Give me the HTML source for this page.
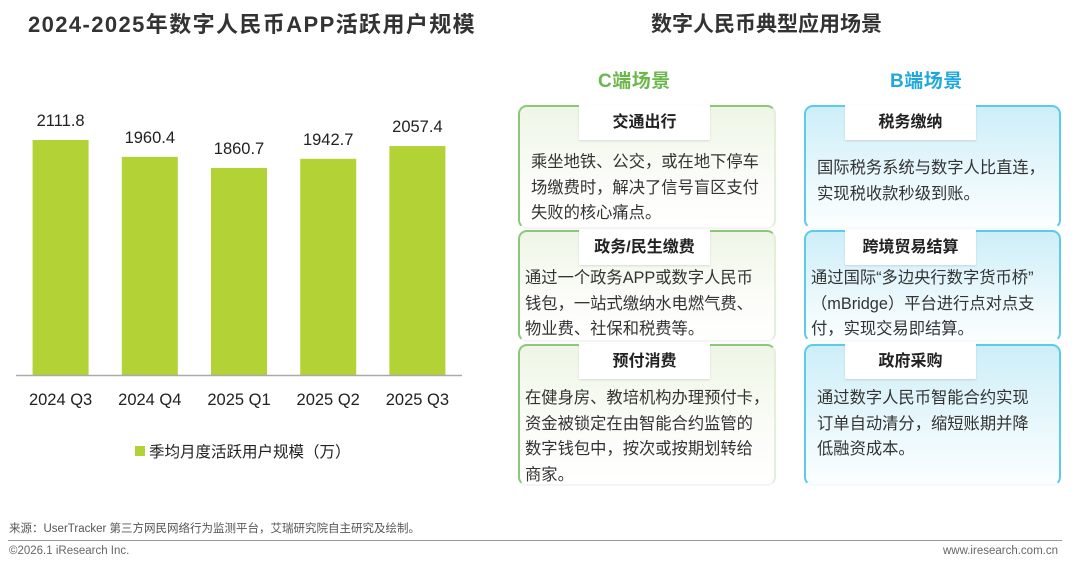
<!DOCTYPE html>
<html><head><meta charset="utf-8">
<style>
*{margin:0;padding:0;box-sizing:border-box}
body{width:1080px;height:568px;background:#fff;position:relative;overflow:hidden;font-family:"Liberation Sans","Noto Sans CJK SC",sans-serif;color:#222}
.abs{position:absolute}
.title{font-size:21px;font-weight:bold;color:#333;top:8px}
.card{position:absolute;border-radius:9px;}
.c{border:2px solid #8cc87a;background:linear-gradient(180deg,#eef6e6 0%,#fbfcf8 60%,#fff 100%);border-bottom-color:#f4f4f4;border-right-color:#e3efd9}
.b{border:2px solid #5ccbe9;background:linear-gradient(180deg,#cdeef8 0%,#eaf8fc 60%,#fbfeff 100%);border-bottom-color:#f4fbfd}
.tab{position:absolute;top:-2px;height:35px;background:#fff;text-align:center;font-size:16px;font-weight:bold;line-height:35px;color:#222;box-shadow:0 1px 2px rgba(0,0,0,0.12)}
.txt{position:absolute;font-size:16.3px;line-height:25.5px;color:#333;white-space:nowrap}
</style></head><body>
<div class="abs title" style="left:28px;font-size:22px;letter-spacing:1.4px;top:7px">2024-2025年数字人民币APP活跃用户规模</div>
<div class="abs title" style="left:651px">数字人民币典型应用场景</div>

<svg id="chart" class="abs" style="left:0;top:90px" width="490" height="390"></svg>

<div class="abs" style="left:598px;top:66px;font-size:19px;font-weight:bold;color:#6ab84a;letter-spacing:0.5px">C端场景</div>
<div class="abs" style="left:890px;top:66px;font-size:19px;font-weight:bold;color:#1fa8e0;letter-spacing:0.5px">B端场景</div>

<div class="card c" style="left:518px;top:105px;width:258px;height:124px">
 <div class="tab" style="left:59px;width:131px">交通出行</div>
 <div class="txt" style="left:11px;top:43px">乘坐地铁、公交，或在地下停车<br>场缴费时，解决了信号盲区支付<br>失败的核心痛点。</div></div>
<div class="card c" style="left:518px;top:230px;width:258px;height:112px">
 <div class="tab" style="left:59px;width:131px">政务/民生缴费</div>
 <div class="txt" style="left:5px;top:34px">通过一个政务APP或数字人民币<br>钱包，一站式缴纳水电燃气费、<br>物业费、社保和税费等。</div></div>
<div class="card c" style="left:518px;top:344px;width:258px;height:142px">
 <div class="tab" style="left:59px;width:131px">预付消费</div>
 <div class="txt" style="left:5px;top:40px">在健身房、教培机构办理预付卡，<br>资金被锁定在由智能合约监管的<br>数字钱包中，按次或按期划转给<br>商家。</div></div>

<div class="card b" style="left:804px;top:105px;width:257px;height:124px">
 <div class="tab" style="left:39px;width:131px">税务缴纳</div>
 <div class="txt" style="left:11px;top:49px">国际税务系统与数字人比直连，<br>实现税收款秒级到账。</div></div>
<div class="card b" style="left:804px;top:230px;width:257px;height:112px">
 <div class="tab" style="left:39px;width:131px">跨境贸易结算</div>
 <div class="txt" style="left:5px;top:34px">通过国际“多边央行数字货币桥”<br>（mBridge）平台进行点对点支<br>付，实现交易即结算。</div></div>
<div class="card b" style="left:804px;top:344px;width:257px;height:142px">
 <div class="tab" style="left:39px;width:131px">政府采购</div>
 <div class="txt" style="left:11px;top:40px">通过数字人民币智能合约实现<br>订单自动清分，缩短账期并降<br>低融资成本。</div></div>

<div class="abs" style="left:9px;top:520px;font-size:11.5px;color:#555">来源：UserTracker 第三方网民网络行为监测平台，艾瑞研究院自主研究及绘制。</div>
<div class="abs" style="left:8px;top:540px;width:1054px;height:1px;background:#999"></div>
<div class="abs" style="left:9px;top:545px;font-size:11.5px;color:#666">©2026.1 iResearch Inc.</div>
<div class="abs" style="right:22px;top:545px;font-size:11.5px;color:#666">www.iresearch.com.cn</div>

<script>
const categories = ["2024 Q3","2024 Q4","2025 Q1","2025 Q2","2025 Q3"];
const values = [2111.8,1960.4,1860.7,1942.7,2057.4];
const valueLabels = ["2111.8","1960.4","1860.7","1942.7","2057.4"];
const seriesName = "季均月度活跃用户规模（万）";

const svg = document.getElementById('chart');
const NS = 'http://www.w3.org/2000/svg';
const top0 = 90, baseY = 375 - top0, plotL = 16, plotR = 462;
const scale = 235 / 2111.8;
const step = (plotR - plotL) / categories.length;
const barW = 56;
function xCenter(i){ return plotL + step * (i + 0.5); }
function yOf(v){ return baseY - v * scale; }
function mk(tag, attrs){ const e = document.createElementNS(NS, tag); for (const k in attrs) e.setAttribute(k, attrs[k]); svg.appendChild(e); return e; }

values.forEach((v, i) => {
  const r = mk('rect', {x: xCenter(i) - barW/2, y: yOf(v), width: barW, height: baseY - yOf(v), fill: '#b2d235'});
  
  
  const t = mk('text', {x: xCenter(i), y: yOf(v) - 14, 'text-anchor': 'middle', 'font-size': '16.5', fill: '#222'});
  t.textContent = valueLabels[i];
  
  
  const c = mk('text', {x: xCenter(i), y: baseY + 30, 'text-anchor': 'middle', 'font-size': '16.5', fill: '#222'});
  c.textContent = categories[i];
  
  
});
const ax = mk('line', {x1: plotL, x2: plotR, y1: baseY + 0.5, y2: baseY + 0.5, stroke: '#aaa', 'stroke-width': 1.5});


const ls = mk('rect', {x: 135, y: 446 - top0, width: 10, height: 10, fill: '#b2d235'});


const lt = mk('text', {x: 149, y: 457 - top0, 'font-size': '15.5', fill: '#222'});
lt.textContent = seriesName;


</script>
</body></html>
